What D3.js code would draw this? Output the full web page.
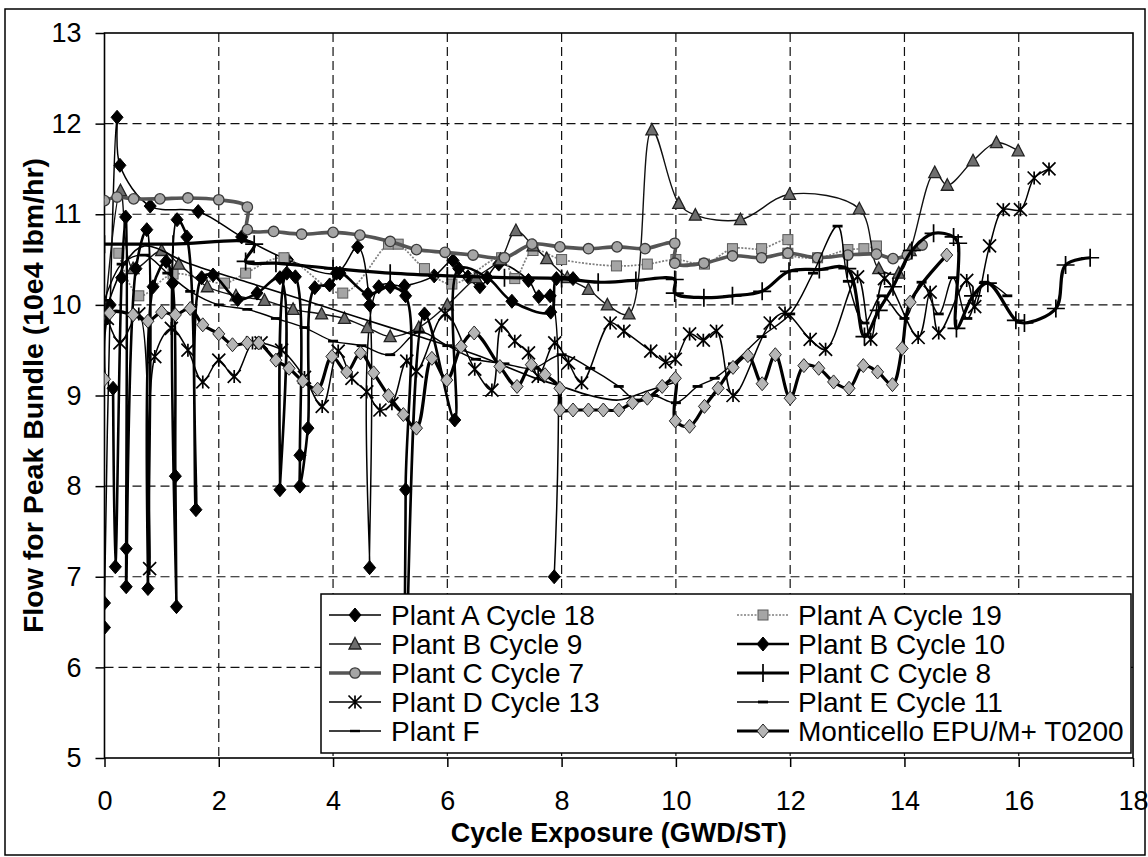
<!DOCTYPE html>
<html>
<head>
<meta charset="utf-8">
<script src="https://cdn.jsdelivr.net/npm/d3@7"></script>
<style>
  body { margin: 0; background: #fff; }
  svg { display: block; font-family: Arial, "Liberation Sans", sans-serif; }
</style>
</head>
<body>
<div id="chart"></div>
<script>
// --- data: [exposure GWD/ST, flow 10e4 lbm/hr] ---
const plantA18 = [[0,6.44],[0,6.71],[0.1,10.0],[0.22,12.07],[0.27,11.54],[0.8,11.09],[1.64,11.03],[2.4,10.75],[3.2,10.5],[4.06,10.35],[4.43,10.64],[4.64,10.0],[4.64,7.1],[4.8,10.2],[5.25,10.21],[5.77,10.32],[6.1,10.49],[6.36,10.31],[6.57,10.2],[6.9,10.45],[7.42,10.27],[7.6,10.09],[7.8,10.1],[7.87,7.0]];
const plantA19 = [[0.25,10.57],[0.6,10.1],[1.2,10.34],[2.1,10.24],[2.47,10.35],[3.14,10.52],[4.17,10.13],[4.97,10.67],[5.14,10.67],[5.6,10.4],[6.08,10.23],[6.95,10.52],[7.18,10.29],[7.5,10.6],[8.0,10.5],[8.96,10.43],[9.5,10.45],[10.0,10.5],[10.5,10.45],[10.99,10.62],[11.5,10.62],[11.96,10.72],[11.96,10.57],[12.48,10.52],[13.01,10.61],[13.29,10.62],[13.51,10.65]];
const plantB9 = [[0,9.85],[0.28,11.26],[0.5,10.4],[1.0,10.6],[1.3,10.45],[1.8,10.2],[2.3,10.1],[2.8,10.05],[3.3,9.95],[3.8,9.9],[4.2,9.85],[4.6,9.75],[5.0,9.65],[5.5,9.75],[6.0,10.0],[6.5,10.3],[6.93,10.5],[7.2,10.82],[7.5,10.65],[7.74,10.51],[8.1,10.3],[8.47,10.17],[8.8,10.0],[9.18,9.9],[9.58,11.93],[10.05,11.12],[10.34,10.99],[11.13,10.94],[11.99,11.22],[13.21,11.06],[13.55,10.4],[13.9,10.35],[14.1,10.6],[14.53,11.46],[14.75,11.32],[15.2,11.59],[15.61,11.79],[15.99,11.7]];
const plantB10 = [[0.15,9.08],[0.19,7.11],[0.3,10.3],[0.37,10.97],[0.38,7.31],[0.38,6.89],[0.55,10.4],[0.74,10.83],[0.76,6.87],[0.85,10.2],[1.08,10.48],[1.19,10.24],[1.24,8.11],[1.26,6.67],[1.27,10.94],[1.44,10.75],[1.6,7.74],[1.7,10.3],[1.9,10.33],[2.33,10.06],[2.67,10.13],[3.07,10.3],[3.07,7.96],[3.19,10.35],[3.34,10.31],[3.42,8.34],[3.42,8.0],[3.56,8.64],[3.68,10.19],[3.94,10.22],[4.12,10.35],[4.61,10.12],[5.0,10.2],[5.27,10.1],[5.27,7.96],[5.27,6.0],[5.6,9.9],[6.13,8.73],[6.2,10.4],[6.7,10.3],[7.13,10.04],[7.81,9.92],[7.91,10.29],[8.2,10.29]];
const plantC7 = [[0,11.15],[0.22,11.19],[0.51,11.17],[0.97,11.17],[1.46,11.18],[2.0,11.16],[2.5,11.08],[2.5,10.83],[2.96,10.81],[3.45,10.78],[4.0,10.8],[4.47,10.77],[5.0,10.7],[5.46,10.61],[5.96,10.58],[6.45,10.55],[7.0,10.52],[7.48,10.67],[7.97,10.64],[8.47,10.62],[8.97,10.64],[9.46,10.62],[9.98,10.68],[9.98,10.46],[10.49,10.46],[10.99,10.54],[11.5,10.52],[11.96,10.57],[12.48,10.52],[13.01,10.55],[13.51,10.56],[13.8,10.51],[14.05,10.55],[14.31,10.66]];
const plantC8 = [[0,10.67],[1.2,10.67],[2.62,10.67],[2.47,10.48],[3.0,10.46],[4.0,10.4],[5.0,10.35],[6.0,10.32],[7.0,10.3],[8.0,10.29],[8.64,10.25],[9.3,10.27],[9.98,10.28],[9.98,10.13],[10.49,10.08],[10.99,10.1],[11.51,10.15],[11.98,10.37],[12.51,10.39],[13.0,10.4],[13.3,9.65],[13.55,9.94],[13.8,10.2],[14.13,10.6],[14.51,10.79],[14.86,10.75],[14.94,10.68],[14.91,9.74],[15.2,10.1],[15.46,10.24],[15.95,9.83],[16.1,9.8],[16.65,9.96],[16.82,10.44],[17.25,10.52]];
const plantD13 = [[0.05,9.85],[0.27,9.58],[0.6,9.9],[0.79,7.09],[0.88,9.43],[1.17,9.74],[1.46,9.5],[1.72,9.15],[2.0,9.39],[2.27,9.21],[2.59,9.58],[2.74,9.58],[3.1,9.5],[3.5,9.2],[3.81,8.88],[4.09,9.49],[4.33,9.19],[4.59,9.04],[4.82,8.84],[5.03,8.91],[5.29,9.38],[5.46,9.27],[5.96,9.9],[6.48,9.29],[6.78,9.06],[6.95,9.77],[7.18,9.6],[7.42,9.47],[7.59,9.21],[7.88,9.58],[8.12,9.36],[8.35,9.14],[8.85,9.8],[9.09,9.71],[9.56,9.49],[9.82,9.37],[9.99,9.4],[10.24,9.68],[10.48,9.61],[10.71,9.71],[11.0,9.0],[11.65,9.8],[11.91,9.91],[12.35,9.62],[12.62,9.51],[13.18,10.31],[13.41,9.62],[13.65,10.29],[14.24,9.64],[14.45,10.14],[14.6,9.69],[15.09,10.27],[15.23,9.98],[15.49,10.65],[15.73,11.05],[16.03,11.05],[16.27,11.4],[16.53,11.5]];
const plantE11 = [[0,10.05],[0.3,10.45],[0.7,10.55],[1.1,10.35],[1.5,10.15],[2.0,10.0],[2.5,9.95],[3.0,9.85],[3.5,9.75],[4.0,9.6],[4.5,9.55],[5.0,9.45],[5.5,9.7],[6.0,9.55],[6.5,9.4],[7.0,9.35],[7.5,9.3],[8.0,9.45],[8.5,9.3],[9.0,9.1],[9.3,8.95],[9.6,9.0],[10.0,8.92],[10.38,9.1],[10.68,9.19],[11.0,9.35],[11.5,9.65],[12.0,9.9],[12.4,10.35],[12.83,10.87],[13.01,10.26],[13.3,9.8],[13.6,10.1],[14.0,9.85],[14.3,10.25],[14.6,9.9],[14.85,10.3],[15.1,9.85],[15.4,10.25],[15.8,10.1]];
const plantF = [[0,9.9],[0.4,10.5],[0.7,10.65],[1.5,10.45],[2.5,10.25],[3.5,10.05],[4.5,9.85],[5.5,9.65],[6.5,9.45],[7.5,9.2],[8.0,9.1],[8.5,9.0],[9.0,8.95],[9.5,9.05],[10.0,9.15]];
const monticello = [[0,9.18],[0.09,9.91],[0.5,9.89],[0.76,9.82],[1.0,9.92],[1.24,9.89],[1.5,9.96],[1.72,9.78],[2.0,9.68],[2.24,9.56],[2.5,9.58],[2.7,9.58],[3.0,9.39],[3.23,9.3],[3.47,9.16],[3.73,9.07],[3.98,9.43],[4.24,9.26],[4.48,9.47],[4.71,9.25],[4.97,9.0],[5.23,8.79],[5.46,8.64],[5.73,9.41],[5.99,9.17],[6.24,9.54],[6.47,9.69],[6.92,9.32],[7.22,9.1],[7.47,9.34],[7.71,9.23],[7.97,9.08],[7.97,8.84],[8.2,8.84],[8.47,8.84],[8.73,8.84],[9.0,8.84],[9.24,8.92],[9.5,8.97],[9.76,9.1],[9.99,9.19],[9.99,8.72],[10.24,8.66],[10.5,8.88],[10.74,9.08],[11.0,9.31],[11.26,9.44],[11.51,9.13],[11.74,9.45],[12.0,8.97],[12.24,9.33],[12.5,9.3],[12.76,9.15],[13.03,9.08],[13.28,9.33],[13.53,9.26],[13.79,9.12],[13.96,9.52],[14.1,10.03],[14.74,10.55]];

const seriesNames = ["Plant A Cycle 18","Plant A Cycle 19","Plant B Cycle 9","Plant B Cycle 10","Plant C Cycle 7","Plant C Cycle 8","Plant D Cycle 13","Plant E Cycle 11","Plant F","Monticello EPU/M+ T0200"];
const seriesData = [plantA18, plantA19, plantB9, plantB10, plantC7, plantC8, plantD13, plantE11, plantF, monticello];
const xTicks = [0,2,4,6,8,10,12,14,16,18];
const yTicks = [5,6,7,8,9,10,11,12,13];

// --- styles per series ---
const styles = [
  {stroke: "#000", width: 1.5, marker: "diamond", fill: "#000", mstroke: "#000"},
  {stroke: "#7f7f7f", width: 1.7, dash: "2,1.5", marker: "square", fill: "#a5a5a5", mstroke: "#5a5a5a"},
  {stroke: "#111", width: 1.4, marker: "triangle", fill: "#6e6e6e", mstroke: "#222"},
  {stroke: "#000", width: 2.6, marker: "diamond", fill: "#000", mstroke: "#000"},
  {stroke: "#555", width: 3.6, marker: "circle", fill: "#a5a5a5", mstroke: "#3a3a3a"},
  {stroke: "#000", width: 3.2, marker: "plus", fill: "none", mstroke: "#000"},
  {stroke: "#000", width: 1.5, marker: "star", fill: "none", mstroke: "#000"},
  {stroke: "#000", width: 1.4, marker: "dash", fill: "none", mstroke: "#000"},
  {stroke: "#000", width: 1.6, marker: "none", fill: "none", mstroke: "#000"},
  {stroke: "#000", width: 3.2, marker: "diamond", fill: "#b5b5b5", mstroke: "#222"}
];

const W = 1148, H = 857;
const margin = {left: 104.5, right: 15, top: 33, bottom: 99};

const svg = d3.select("#chart").append("svg")
  .attr("width", W).attr("height", H);

// outer frame
svg.append("rect").attr("x", 5).attr("y", 9).attr("width", W - 8).attr("height", H - 11)
  .attr("fill", "none").attr("stroke", "#000").attr("stroke-width", 1.5);

const x = d3.scaleLinear().domain([0, 18]).range([margin.left, W - margin.right]);
const y = d3.scaleLinear().domain([5, 13]).range([H - margin.bottom, margin.top]);

svg.append("defs").append("clipPath").attr("id", "clip")
  .append("rect").attr("x", x(0)).attr("y", y(13))
  .attr("width", x(18) - x(0)).attr("height", y(5) - y(13));

// gridlines
const grid = svg.append("g").attr("stroke", "#111").attr("stroke-width", 1.2).attr("stroke-dasharray", "9,5");
grid.selectAll(".gx").data(xTicks.slice(1, -1)).join("line")
  .attr("x1", d => x(d)).attr("x2", d => x(d)).attr("y1", y(13)).attr("y2", y(5));
grid.selectAll(".gy").data(yTicks.slice(1, -1)).join("line")
  .attr("y1", d => y(d)).attr("y2", d => y(d)).attr("x1", x(0)).attr("x2", x(18));

// plot border
svg.append("rect").attr("x", x(0)).attr("y", y(13)).attr("width", x(18) - x(0)).attr("height", y(5) - y(13))
  .attr("fill", "none").attr("stroke", "#000").attr("stroke-width", 1.6);

// axes
const xAxis = svg.append("g").attr("transform", `translate(0,${y(5)})`)
  .call(d3.axisBottom(x).tickValues(xTicks).tickSize(9).tickPadding(24));
const yAxis = svg.append("g").attr("transform", `translate(${x(0)},0)`)
  .call(d3.axisLeft(y).tickValues(yTicks).tickSize(9).tickPadding(14));
[xAxis, yAxis].forEach(a => {
  a.select(".domain").remove();
  a.selectAll("line").attr("stroke", "#000").attr("stroke-width", 1.5);
  a.selectAll("text").attr("font-size", 27).attr("fill", "#000")
    .attr("font-family", "Arial, 'Liberation Sans', sans-serif");
});

// titles
svg.append("text").attr("x", (x(0) + x(18)) / 2).attr("y", 842)
  .attr("text-anchor", "middle").attr("font-size", 27).attr("font-weight", "bold")
  .text("Cycle Exposure (GWD/ST)");
svg.append("text").attr("transform", `translate(43,${(y(5) + y(13)) / 2}) rotate(-90)`)
  .attr("text-anchor", "middle").attr("font-size", 28.5).attr("font-weight", "bold")
  .text("Flow for Peak Bundle (10e4 lbm/hr)");

// marker drawing
function drawMarker(g, type, st) {
  if (type === "diamond") {
    g.append("path").attr("d", "M0,-7L6,0L0,7L-6,0Z").attr("fill", st.fill).attr("stroke", st.mstroke).attr("stroke-width", 1);
  } else if (type === "square") {
    g.append("rect").attr("x", -5).attr("y", -5).attr("width", 10).attr("height", 10).attr("fill", st.fill).attr("stroke", st.mstroke).attr("stroke-width", 1);
  } else if (type === "triangle") {
    g.append("path").attr("d", "M0,-6.5L6,5L-6,5Z").attr("fill", st.fill).attr("stroke", st.mstroke).attr("stroke-width", 1.3);
  } else if (type === "circle") {
    g.append("circle").attr("r", 5.2).attr("fill", st.fill).attr("stroke", st.mstroke).attr("stroke-width", 1.3);
  } else if (type === "plus") {
    g.append("path").attr("d", "M-9,0H9M0,-9V9").attr("stroke", st.mstroke).attr("stroke-width", 1.7);
  } else if (type === "star") {
    g.append("path").attr("d", "M-6.5,-6.5L6.5,6.5M-6.5,6.5L6.5,-6.5M0,-6.5V6.5").attr("stroke", st.mstroke).attr("stroke-width", 1.7);
  } else if (type === "dash") {
    g.append("path").attr("d", "M-5,0H5").attr("stroke", st.mstroke).attr("stroke-width", 2.8);
  }
}

const line = d3.line().x(d => x(d[0])).y(d => y(d[1])).curve(d3.curveCatmullRom.alpha(0.5));

const plot = svg.append("g").attr("clip-path", "url(#clip)");
seriesData.forEach((data, i) => {
  const st = styles[i];
  const g = plot.append("g");
  g.append("path").datum(data).attr("d", line)
    .attr("fill", "none").attr("stroke", st.stroke).attr("stroke-width", st.width)
    .attr("stroke-dasharray", st.dash || null).attr("stroke-linejoin", "round");
  g.selectAll(".m").data(data).join("g")
    .attr("transform", d => `translate(${x(d[0])},${y(d[1])})`)
    .each(function () { drawMarker(d3.select(this), st.marker, st); });
});

// legend
const legend = svg.append("g");
legend.append("rect").attr("x", 321).attr("y", 594).attr("width", 810).attr("height", 159)
  .attr("fill", "#fff").attr("stroke", "#000").attr("stroke-width", 1.5);
const colX = [{line: 329, text: 391}, {line: 737, text: 798}];
seriesNames.forEach((name, i) => {
  const col = colX[i % 2], row = Math.floor(i / 2);
  const cy = 615 + row * 29;
  const st = styles[i];
  const item = legend.append("g");
  item.append("line").attr("x1", col.line).attr("x2", col.line + 52).attr("y1", cy).attr("y2", cy)
    .attr("stroke", st.stroke).attr("stroke-width", Math.max(st.width, 1.4)).attr("stroke-dasharray", st.dash || null);
  if (st.marker === "none") {
    item.append("path").attr("d", `M${col.line + 21},${cy}H${col.line + 31}`).attr("stroke", "#000").attr("stroke-width", 2.4);
  }
  drawMarker(item.append("g").attr("transform", `translate(${col.line + 26},${cy})`), st.marker, st);
  item.append("text").attr("x", col.text).attr("y", cy).attr("dy", "0.36em")
    .attr("font-size", 28).text(name);
});
</script>
</body>
</html>
